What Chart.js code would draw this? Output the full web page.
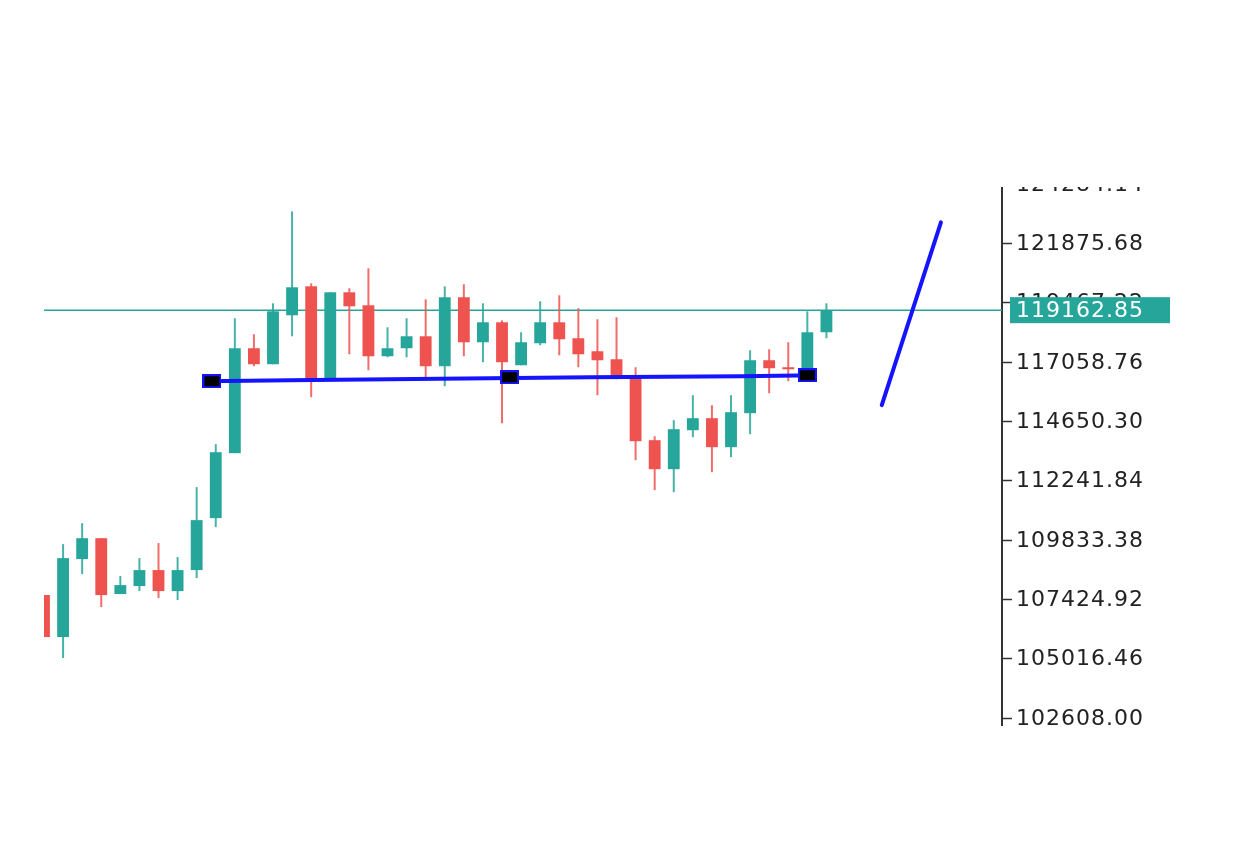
<!DOCTYPE html>
<html>
<head>
<meta charset="utf-8">
<script src="https://cdn.jsdelivr.net/npm/chart.js@4.4.1/dist/chart.umd.min.js"></script>
<style>
  html, body { margin: 0; padding: 0; background: #fff; }
  #wrap { width: 1233px; height: 842px; }
</style>
</head>
<body>
<div id="wrap"><canvas id="chart"></canvas></div>
<script>
// candles: open, high, low, close (index = bar position)
const OPEN = [107599, 105894, 109058, 109907, 107639, 107963, 108612, 107760, 108612, 110721,
  113358, 117617, 116968, 118955, 120132, 116319, 119888, 119361, 117292, 117617,
  118103, 116887, 119686, 117860, 118671, 116927, 117820, 118671, 118022, 117495,
  117170, 116481, 113885, 112708, 114290, 114778, 113601, 114981, 117130, 116846,
  116684, 118266];
const HIGH = [107599, 109666, 110519, 109907, 108369, 109098, 109707, 109139, 111978, 113723,
  118834, 118185, 119442, 123174, 120253, 119888, 120051, 120862, 118469, 118834,
  119605, 120132, 120213, 119442, 118752, 118266, 119523, 119767, 119239, 118793,
  118874, 116846, 114047, 114698, 115711, 115305, 115711, 117536, 117576, 117860,
  119117, 119442];
const LOW = [105894, 105042, 108450, 107111, 107639, 107760, 107477, 107395, 108288, 110357,
  113358, 116887, 116968, 118103, 115630, 116319, 117373, 116724, 117251, 117251,
  116359, 116075, 117292, 117049, 114574, 116927, 117739, 117332, 116846, 115711,
  116359, 113074, 111857, 111776, 114006, 112587, 113195, 114128, 115792, 116278,
  116684, 118022];
const CLOSE = [105894, 109098, 109907, 107599, 108003, 108612, 107760, 108612, 110640, 113398,
  117617, 116968, 119117, 120091, 116359, 119888, 119320, 117292, 117617, 118103,
  116887, 119686, 117860, 118671, 117049, 117860, 118671, 117982, 117373, 117130,
  116481, 113844, 112708, 114331, 114778, 113601, 115021, 117130, 116806, 116765,
  118266, 119158];

const LEVEL = [{ x: 8.4, y: 116278 }, { x: 12.9, y: 116319 }, { x: 28.6, y: 116440 }, { x: 36.5, y: 116481 }, { x: 40.5, y: 116522 }];
const MARKERS = [{ x: 8.8, y: 116278 }, { x: 24.4, y: 116440 }, { x: 40.0, y: 116522 }];
const TREND = [{ x: 43.9, y: 115305 }, { x: 47.0, y: 122728 }];
const LAST_PRICE = 119162.85;
const TICKS = [102608.00, 105016.46, 107424.92, 109833.38, 112241.84, 114650.30, 117058.76, 119467.22, 121875.68, 124284.14];

const UP = '#26a69a';
const DOWN = '#ef5350';
const LABEL_FONT = '22px "DejaVu Sans"';

const markerImg = document.createElement('canvas');
markerImg.width = 19; markerImg.height = 14;
(function () {
  const c = markerImg.getContext('2d');
  c.fillStyle = '#1414ff';
  c.fillRect(0, 0, 19, 14);
  c.fillStyle = '#000';
  c.fillRect(2, 2, 15, 10);
})();

const candlePlugin = {
  id: 'candles',
  beforeDatasetsDraw(chart) {
    const { ctx, scales: { x, y }, chartArea } = chart;
    ctx.save();
    ctx.beginPath();
    ctx.rect(chartArea.left, chartArea.top, chartArea.right - chartArea.left, chartArea.bottom - chartArea.top);
    ctx.clip();
    // last price line
    const py = y.getPixelForValue(LAST_PRICE);
    ctx.strokeStyle = UP;
    ctx.lineWidth = 1.5;
    ctx.beginPath();
    ctx.moveTo(chartArea.left, py);
    ctx.lineTo(chartArea.right, py);
    ctx.stroke();
    const w = Math.abs(x.getPixelForValue(1) - x.getPixelForValue(0)) * 0.62;
    OPEN.forEach((o, i) => {
      const c = CLOSE[i];
      const col = c >= o ? UP : DOWN;
      const cx = x.getPixelForValue(i);
      ctx.strokeStyle = col;
      ctx.globalAlpha = 0.85;
      ctx.lineWidth = 2;
      ctx.beginPath();
      ctx.moveTo(cx, y.getPixelForValue(HIGH[i]));
      ctx.lineTo(cx, y.getPixelForValue(LOW[i]));
      ctx.stroke();
      ctx.globalAlpha = 1;
      const top = y.getPixelForValue(Math.max(o, c));
      const bot = y.getPixelForValue(Math.min(o, c));
      ctx.fillStyle = col;
      ctx.fillRect(cx - w / 2, top, w, Math.max(2, bot - top));
    });
    ctx.restore();
  },
  afterDraw(chart) {
    const { ctx, scales: { y }, chartArea } = chart;
    ctx.save();
    ctx.font = LABEL_FONT;
    ctx.letterSpacing = '1px';
    ctx.textBaseline = 'middle';
    ctx.fillStyle = '#222';
    TICKS.forEach(v => {
      ctx.fillText(v.toFixed(2), chartArea.right + 14, y.getPixelForValue(v) + 1);
    });
    // the top of the axis is cut off in the original
    ctx.fillStyle = '#fff';
    ctx.fillRect(chartArea.right - 3, 0, 240, chartArea.top + 3);
    const py = y.getPixelForValue(LAST_PRICE);
    ctx.fillStyle = UP;
    ctx.fillRect(chartArea.right + 8, py - 13, 160, 26);
    ctx.fillStyle = '#fff';
    ctx.fillText(LAST_PRICE.toFixed(2), chartArea.right + 14, py + 1);
    ctx.restore();
  }
};

new Chart(document.getElementById('chart'), {
  type: 'line',
  data: {
    datasets: [
      {
        data: LEVEL, borderColor: '#1414ff', borderWidth: 4, pointRadius: 0, order: 2
      },
      {
        data: MARKERS, showLine: false, pointStyle: markerImg, pointRadius: 8, order: 1
      },
      {
        data: TREND, borderColor: '#1414ff', borderWidth: 4, pointRadius: 0, borderCapStyle: 'round', order: 3
      }
    ]
  },
  options: {
    animation: false,
    responsive: true,
    maintainAspectRatio: false,
    clip: false,
    layout: { padding: { left: 44, top: 184, bottom: 117, right: 0 } },
    plugins: { legend: { display: false }, tooltip: { enabled: false } },
    scales: {
      x: { type: 'linear', min: 0, max: 50.2, display: false },
      y: {
        position: 'right',
        min: 102324, max: 124284.14,
        afterBuildTicks(axis) { axis.ticks = TICKS.map(v => ({ value: v })); },
        afterFit(axis) { axis.width = 231; },
        grid: { drawOnChartArea: false, drawTicks: true, tickLength: 10, tickColor: '#333', tickWidth: 1.5 },
        border: { color: '#333', width: 2 },
        ticks: { padding: 0, color: 'rgba(0,0,0,0)', font: { family: 'DejaVu Sans', size: 19 }, callback: v => v.toFixed(2) }
      }
    }
  },
  plugins: [candlePlugin]
});
</script>
</body>
</html>
